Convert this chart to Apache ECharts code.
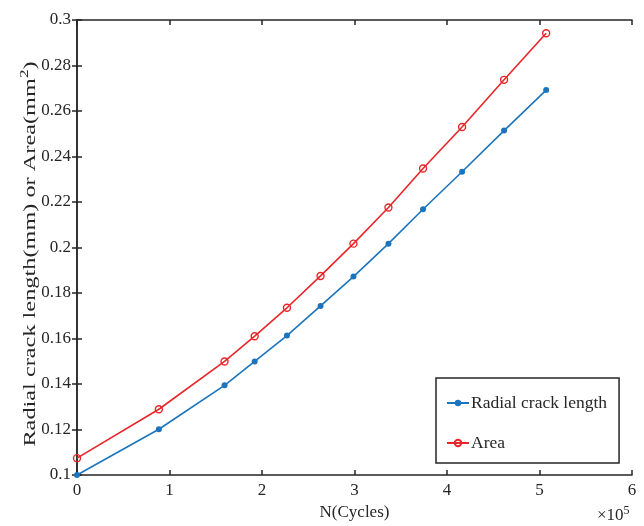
<!DOCTYPE html>
<html>
<head>
<meta charset="utf-8">
<script src="https://cdn.jsdelivr.net/npm/echarts@6/dist/echarts.min.js"></script>
<style>html,body{margin:0;padding:0;background:#fff;}#c{width:644px;height:526px;}</style>
</head>
<body>
<div id="c"></div>
<script>
// N in units of 1e5 cycles
var cycles = [0, 0.885, 1.595, 1.921, 2.27, 2.633, 2.989, 3.367, 3.741, 4.163, 4.617, 5.072];
var radialLength = [0.100, 0.1201, 0.1394, 0.1499, 0.1613, 0.1743, 0.1872, 0.2017, 0.2168, 0.2333, 0.2514, 0.2692];
var areaValues = [0.1074, 0.1289, 0.1499, 0.1610, 0.1735, 0.1875, 0.2017, 0.2176, 0.2347, 0.2530, 0.2737, 0.2942];
var xTicks = [0, 1, 2, 3, 4, 5, 6];
var yTicks = [0.1, 0.12, 0.14, 0.16, 0.18, 0.2, 0.22, 0.24, 0.26, 0.28, 0.3];

var FONT = 'Liberation Serif';
var AX = '#262626';
function pairs(xs, ys){ return xs.map(function(x,i){ return [x, ys[i]]; }); }

var chart = echarts.init(document.getElementById('c'));
var axisCommon = {
  axisLine: {show: true, lineStyle: {color: AX, width: 1.5}},
  axisTick: {show: true, inside: true, length: 5, lineStyle: {color: AX, width: 1.5}},
  splitLine: {show: false}
};
chart.setOption({
  animation: false,
  backgroundColor: '#fff',
  grid: {left: 77, right: 12, top: 20, bottom: 49},
  xAxis: [
    Object.assign({
      type: 'value', min: xTicks[0], max: xTicks[xTicks.length-1], interval: 1, position: 'bottom',
      axisLabel: {color: AX, fontFamily: FONT, fontSize: 17, margin: 7,
        formatter: function(v){ return String(v); }},
      name: 'N(Cycles)', nameLocation: 'middle', nameGap: 29,
      nameTextStyle: {color: AX, fontFamily: FONT, fontSize: 17, verticalAlign: 'top'}
    }, axisCommon),
    Object.assign({
      type: 'value', min: xTicks[0], max: xTicks[xTicks.length-1], interval: 1, position: 'top',
      axisLabel: {show: false}
    }, axisCommon)
  ],
  yAxis: [
    Object.assign({
      type: 'value', min: yTicks[0], max: yTicks[yTicks.length-1], interval: 0.02, position: 'left',
      axisLabel: {color: AX, fontFamily: FONT, fontSize: 17, margin: 6,
        formatter: function(v){ return String(Math.round(v*100)/100); }}
    }, axisCommon),
    Object.assign({
      type: 'value', min: yTicks[0], max: yTicks[yTicks.length-1], interval: 0.02, position: 'right',
      axisLabel: {show: false}
    }, axisCommon)
  ],
  legend: {
    orient: 'vertical', left: 436, top: 378,
    backgroundColor: '#fff', borderColor: AX, borderWidth: 1.5, borderRadius: 0,
    padding: [16, 12, 11, 10], itemGap: 22, itemWidth: 22, itemHeight: 8,
    textStyle: {color: AX, fontFamily: FONT, fontSize: 17.5, padding: [0,0,0,-3]},
    data: ['Radial crack length', 'Area']
  },
  series: [
    {
      name: 'Radial crack length', type: 'line', data: pairs(cycles, radialLength),
      symbol: 'circle', symbolSize: 6,
      lineStyle: {color: '#1c75bc', width: 1.6},
      itemStyle: {color: '#1c75bc'}
    },
    {
      name: 'Area', type: 'line', data: pairs(cycles, areaValues),
      symbol: 'circle', symbolSize: 7,
      lineStyle: {color: '#e8262a', width: 1.6},
      itemStyle: {color: 'rgba(255,255,255,0)', borderColor: '#e8262a', borderWidth: 1.4}
    }
  ],
  graphic: [
    {
      type: 'text', x: 29, y: 254, rotation: Math.PI / 2, scaleX: 1.43, scaleY: 1,
      style: {
        text: '{a|Radial crack length(mm) or Area(mm}{s|2}{a|)}',
        align: 'center', verticalAlign: 'middle',
        rich: {
          a: {fontFamily: FONT, fontSize: 17, fill: AX, lineHeight: 21, verticalAlign: 'bottom'},
          s: {fontFamily: FONT, fontSize: 12, fill: AX, lineHeight: 21, verticalAlign: 'top', padding: [0,0,8,0]}
        }
      }
    },
    {
      type: 'text', left: 597, top: 505,
      style: {
        text: '{a|×10}{s|5}',
        rich: {
          a: {fontFamily: FONT, fontSize: 17, fill: AX, lineHeight: 19, verticalAlign: 'bottom'},
          s: {fontFamily: FONT, fontSize: 12, fill: AX, lineHeight: 19, verticalAlign: 'top', padding: [0,0,8,0]}
        }
      }
    }
  ]
});
</script>
</body>
</html>
